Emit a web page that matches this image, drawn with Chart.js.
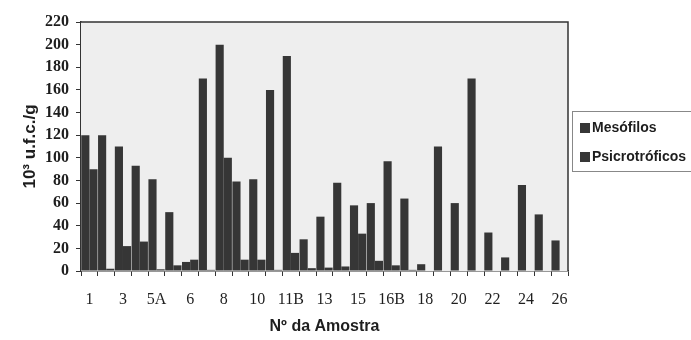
<!DOCTYPE html>
<html>
<head>
<meta charset="utf-8">
<script src="https://cdn.jsdelivr.net/npm/chart.js@4.4.1/dist/chart.umd.min.js"></script>
<style>
  html, body { margin: 0; padding: 0; background: #fff; }
  #wrap { width: 691px; height: 340px; position: relative; }
</style>
</head>
<body>
<div id="wrap"><canvas id="chart"></canvas></div>
<script>
// Nº da Amostra (only every second one is labelled on the axis)
const categories = ['1', '2', '3', '4', '5A', '5B', '6', '7', '8', '9', '10', '11A', '11B', '12',
  '13', '14', '15', '16A', '16B', '17', '18', '19', '20', '21', '22', '23', '24', '25', '26'];

// 10^3 u.f.c./g
const mesofilos = [120, 120, 110, 93, 81, 52, 8, 170, 200, 79, 81, 160, 190, 28,
  48, 78, 58, 60, 97, 64, 6, 110, 60, 170, 34, 12, 76, 50, 27];
const psicrotroficos = [90, 2, 22, 26, 1.5, 5, 10, 1, 100, 10, 10, 1, 16, 2.5,
  3, 4, 33, 9, 5, 1, 0, 0, 0, 0, 0, 0, 0, 0, 0];

const yTicks = [0, 20, 40, 60, 80, 100, 120, 140, 160, 180, 200, 220];

const barColor = '#363636';
const inkColor = '#1e1e1e';

// plot background and the box on top/right of the plot
const plotFrame = {
  id: 'plotFrame',
  beforeDatasetsDraw(chart) {
    const { ctx, chartArea: a } = chart;
    ctx.save();
    ctx.fillStyle = '#eeeeee';
    ctx.fillRect(a.left, a.top, a.right - a.left, a.bottom - a.top);
    ctx.restore();
  },
  afterDraw(chart) {
    const { ctx, chartArea: a } = chart;
    ctx.save();
    ctx.strokeStyle = '#333';
    ctx.lineWidth = 1.5;
    ctx.beginPath();
    ctx.moveTo(a.left, a.top);
    ctx.lineTo(a.right, a.top);
    ctx.lineTo(a.right, a.bottom);
    ctx.stroke();
    ctx.restore();
  }
};

// legend box at the right, partly cut by the page edge
const boxLegend = {
  id: 'boxLegend',
  afterDraw(chart) {
    const { ctx } = chart;
    const x = 572.5, y = 111.5;
    ctx.save();
    ctx.strokeStyle = '#888';
    ctx.lineWidth = 1;
    ctx.strokeRect(x, y, 140, 60);
    ctx.font = 'bold 14px "Liberation Sans", Arial, sans-serif';
    ctx.textBaseline = 'middle';
    chart.data.datasets.forEach((ds, i) => {
      const cy = 128 + i * 29;
      ctx.fillStyle = ds.backgroundColor;
      ctx.fillRect(580, cy - 5, 10, 10);
      ctx.fillStyle = inkColor;
      ctx.fillText(ds.label, 592, cy);
    });
    ctx.restore();
  }
};

new Chart(document.getElementById('chart'), {
  type: 'bar',
  data: {
    labels: categories,
    datasets: [
      { label: 'Mesófilos', data: mesofilos, backgroundColor: barColor },
      { label: 'Psicrotróficos', data: psicrotroficos, backgroundColor: barColor }
    ]
  },
  options: {
    responsive: true,
    maintainAspectRatio: false,
    animation: false,
    datasets: {
      bar: { categoryPercentage: 0.97, barPercentage: 1.0 }
    },
    layout: { padding: { left: 0, right: 123, top: 22, bottom: 0 } },
    plugins: {
      legend: { display: false },
      tooltip: { enabled: false }
    },
    scales: {
      x: {
        grid: { offset: true, drawOnChartArea: false, tickLength: 5, color: '#333', lineWidth: 1 },
        border: { display: true, color: '#333', width: 1.5 },
        ticks: {
          autoSkip: false,
          maxRotation: 0,
          padding: 14,
          color: inkColor,
          font: { family: '"Liberation Serif", "Times New Roman", serif', size: 16 },
          callback: (value, index) => (index % 2 === 0 ? categories[index] : '')
        },
        title: {
          display: true,
          text: 'Nº da Amostra',
          color: inkColor,
          padding: { top: 0, bottom: 4 },
          font: { family: '"Liberation Sans", Arial, sans-serif', size: 16, weight: 'bold' }
        },
        afterFit: (scale) => { scale.height = 69; }
      },
      y: {
        min: 0,
        max: 220,
        afterBuildTicks: (scale) => { scale.ticks = yTicks.map(v => ({ value: v })); },
        grid: { drawOnChartArea: false, tickLength: 5, color: '#333', lineWidth: 1 },
        border: { display: true, color: '#333', width: 1.5 },
        ticks: {
          padding: 7,
          color: inkColor,
          font: { family: '"Liberation Serif", "Times New Roman", serif', size: 16, weight: 'bold' }
        },
        title: {
          display: true,
          text: '10³ u.f.c./g',
          color: inkColor,
          padding: { top: 20, bottom: 0 },
          font: { family: '"Liberation Sans", Arial, sans-serif', size: 17, weight: 'bold' }
        },
        afterFit: (scale) => { scale.width = 81; }
      }
    }
  },
  plugins: [plotFrame, boxLegend]
});
</script>
</body>
</html>
